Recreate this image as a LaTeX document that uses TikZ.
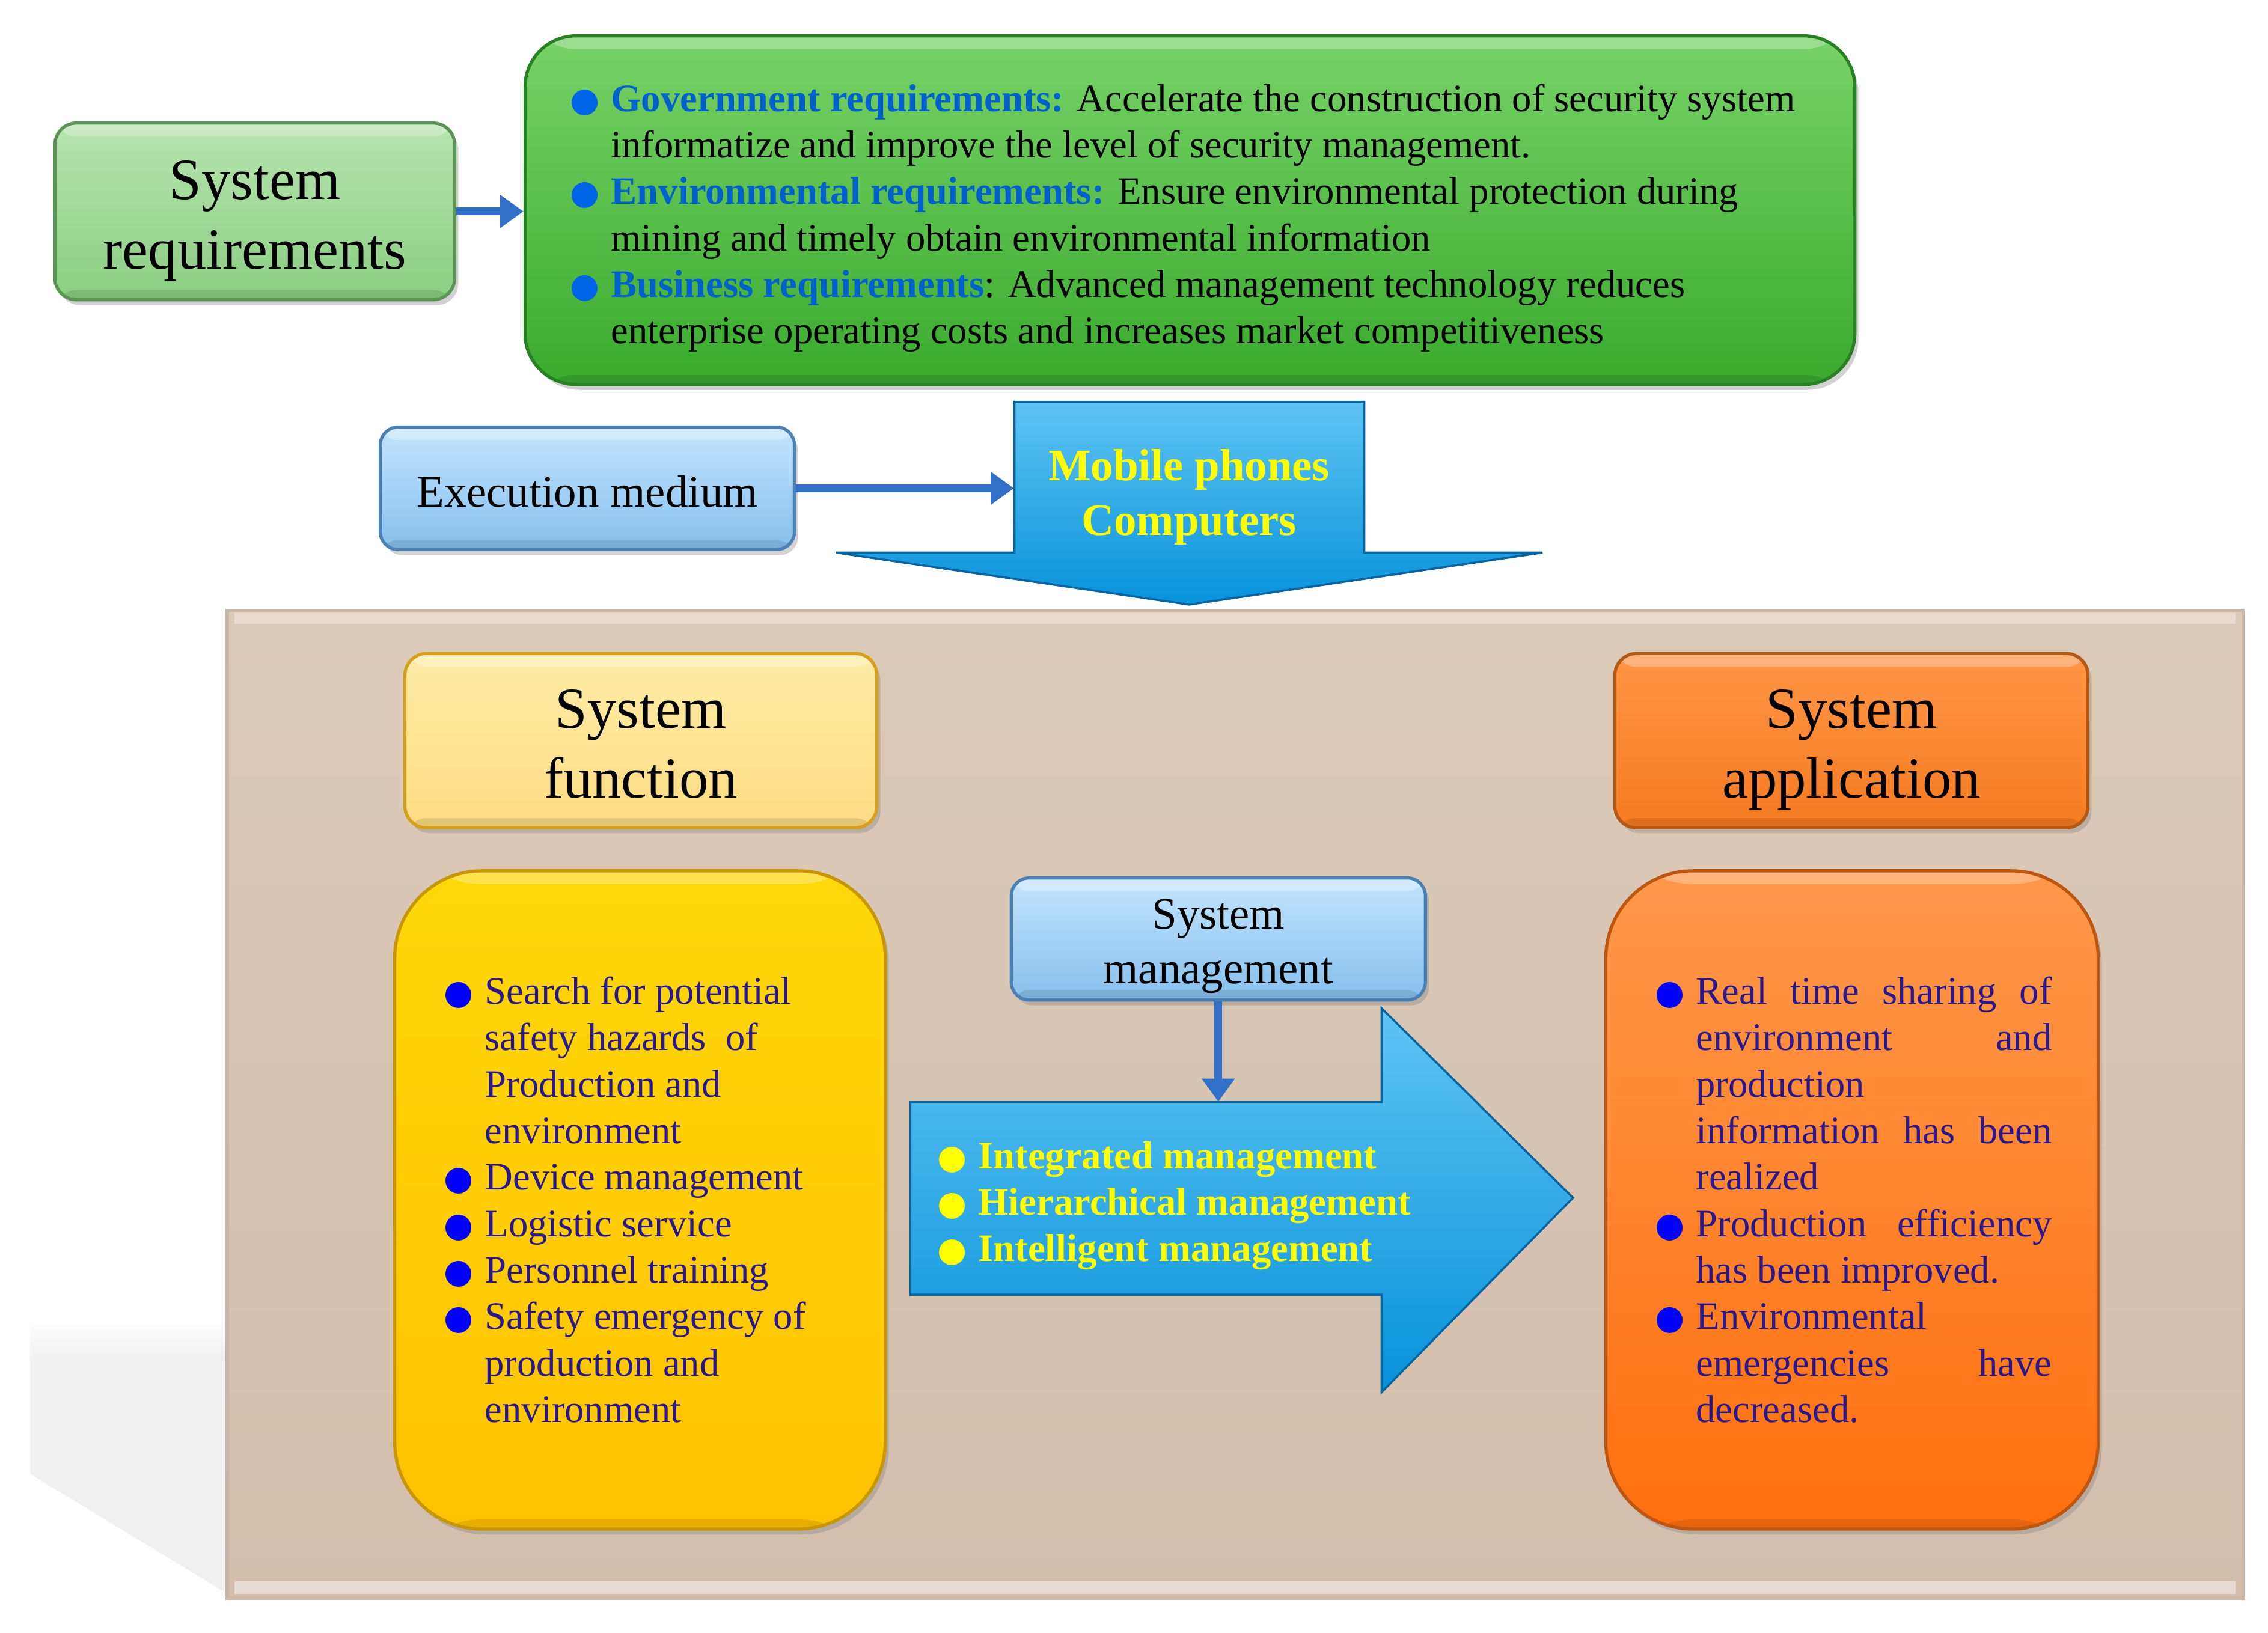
\documentclass[tikz,border=0pt]{standalone}
\usepackage{fontspec}
\setmainfont{Liberation Serif}
\newfontfamily\symfont{DejaVu Sans}
\usetikzlibrary{arrows.meta,shadows}

\definecolor{srtop}{RGB}{184,228,176}
\definecolor{srbot}{RGB}{140,206,132}
\definecolor{srborder}{RGB}{88,150,82}
\definecolor{grtop}{RGB}{120,210,104}
\definecolor{grbot}{RGB}{58,170,46}
\definecolor{grborder}{RGB}{40,130,36}
\definecolor{bltop}{RGB}{196,228,252}
\definecolor{blbot}{RGB}{134,192,238}
\definecolor{blborder}{RGB}{74,128,180}
\definecolor{arrtop}{RGB}{96,196,244}
\definecolor{arrbot}{RGB}{6,146,218}
\definecolor{arrborder}{RGB}{10,100,160}
\definecolor{conncol}{RGB}{48,112,200}
\definecolor{pantop}{RGB}{220,202,185}
\definecolor{panbot}{RGB}{211,190,172}
\definecolor{panedge}{RGB}{196,182,168}
\definecolor{sftop}{RGB}{255,236,168}
\definecolor{sfbot}{RGB}{253,220,130}
\definecolor{sfborder}{RGB}{214,160,30}
\definecolor{satop}{RGB}{255,150,72}
\definecolor{sabot}{RGB}{246,122,32}
\definecolor{saborder}{RGB}{180,88,22}
\definecolor{yltop}{RGB}{255,216,10}
\definecolor{ylbot}{RGB}{255,194,0}
\definecolor{ylborder}{RGB}{200,150,0}
\definecolor{ortop}{RGB}{255,152,76}
\definecolor{orbot}{RGB}{255,112,14}
\definecolor{orborder}{RGB}{190,86,16}
\definecolor{listtext}{RGB}{40,24,140}
\definecolor{bulblue}{RGB}{0,0,250}
\definecolor{reqblue}{RGB}{0,96,204}
\definecolor{greenbul}{RGB}{0,100,230}
\definecolor{yellowtext}{RGB}{255,255,0}

\newcommand\bul[1]{\leavevmode\llap{\textcolor{#1}{\symfont\fontsize{16}{16}\selectfont ●}\kern 5.5pt}}

\begin{document}
\begin{tikzpicture}[x=0.00995cm,y=-0.00995cm,
  tbox/.style={draw=#1, line width=1.5pt, rounded corners=0.36cm, inner sep=0pt,
    drop shadow={shadow xshift=0.06cm, shadow yshift=-0.09cm, opacity=0.35}},
  bevel/.style={path picture={
    \fill[white,opacity=0.28] (path picture bounding box.north west) rectangle ([yshift=-0.22cm]path picture bounding box.north east);
    \fill[black,opacity=0.10] (path picture bounding box.south west) rectangle ([yshift=0.16cm]path picture bounding box.south east);}},
  conn/.style={draw=conncol, line width=3.6pt, -{Triangle[length=11pt,width=15pt]}},
  listnode/.style={anchor=base west, inner sep=0pt},
  titletext/.style={font=\fontsize{27.5}{33}\selectfont, align=center, inner sep=0pt},
  midtext/.style={font=\fontsize{21.3}{26}\selectfont, align=center, inner sep=0pt}]

\fill[white] (0,0) rectangle (3792,2730);
\path[use as bounding box] (0,0) rectangle (3792,2730);

% ---------- top part ----------
\node[tbox=srborder, bevel, top color=srtop, bottom color=srbot, minimum width=6.65cm, minimum height=2.94cm] (sysreq) at (426,353.5) {};
\node[titletext] (sysreqlabel) at ([yshift=-0.16cm]sysreq.center) {System\\requirements};

\node[draw=grborder, line width=1.5pt, rounded corners=0.85cm, top color=grtop, bottom color=grbot, minimum width=22.12cm, minimum height=5.80cm, inner sep=0pt, bevel,
  drop shadow={shadow xshift=0.06cm, shadow yshift=-0.09cm, opacity=0.35}] (green) at (1989.5,351.5) {};

\node[listnode] (greenlist) at (1021,186) {\parbox[t]{21cm}{\fontsize{18.4}{22}\selectfont
\bul{greenbul}\textcolor{reqblue}{\textbf{Government requirements:}} Accelerate the construction of security system\\
informatize and improve the level of security management.\\
\bul{greenbul}\textcolor{reqblue}{\textbf{Environmental requirements:}} Ensure environmental protection during\\
mining and timely obtain environmental information\\
\bul{greenbul}\textcolor{reqblue}{\textbf{Business requirements}}: Advanced management technology reduces\\
enterprise operating costs and increases market competitiveness}};

\draw[conn] (sysreq.east) -- (sysreq.east -| green.west);

% execution medium and mobile arrow
\node[tbox=blborder, bevel, top color=bltop, bottom color=blbot, minimum width=6.89cm, minimum height=2.04cm, rounded corners=0.3cm] (exec) at (982,816.5) {};
\node[midtext] (execlabel) at ([yshift=-0.05cm]exec.center) {Execution medium};

\fill[top color=arrtop, bottom color=arrbot, draw=arrborder, line width=1pt]
  (1696,672) -- (2281,672) -- (2281,924) -- (2579,924) -- (1988,1011) -- (1398,924) -- (1696,924) -- cycle;
\node[minimum width=5.82cm, minimum height=2.51cm, inner sep=0pt] (mobile) at (1988.5,798) {};
\node[font=\bfseries\fontsize{21.3}{26}\selectfont, align=center, inner sep=0pt, text=yellowtext] (mobiletext) at (1988,831)
  {Mobile phones\\Computers};

\draw[conn] (exec.east) -- (exec.east -| mobile.west);

% ---------- lower panel ----------
\fill[top color=white, bottom color=black!6] (51,2210) rectangle (380,2276);
\fill[black!6] (51,2276) -- (380,2276) -- (380,2665) -- (51,2465) -- cycle;

\node[draw=panedge, line width=1.5pt, top color=pantop, bottom color=panbot, minimum width=33.53cm, minimum height=16.44cm, inner sep=0pt] (panel) at (2065,1847) {};
\draw[white, opacity=0.45, line width=6pt] (392,2655) -- (3738,2655);
\draw[white, opacity=0.35, line width=5pt] (392,1034) -- (3738,1034);

\node[tbox=sfborder, bevel, top color=sftop, bottom color=sfbot, minimum width=7.85cm, minimum height=2.90cm] (sysfunc) at (1071.5,1238.5) {};
\node[titletext] (sysfunclabel) at ([yshift=-0.06cm]sysfunc.center) {System\\function};
\node[tbox=saborder, bevel, top color=satop, bottom color=sabot, minimum width=7.87cm, minimum height=2.90cm] (sysapp) at (3095.5,1238.5) {};
\node[titletext] (sysapplabel) at ([yshift=-0.15cm]sysapp.center) {System\\application};

\node[tbox=ylborder, bevel, rounded corners=1.45cm, top color=yltop, bottom color=ylbot, minimum width=8.16cm, minimum height=10.95cm] (funcbox) at (1070,2006.5) {};
\node[tbox=orborder, bevel, rounded corners=1.45cm, top color=ortop, bottom color=orbot, minimum width=8.19cm, minimum height=10.95cm] (appbox) at (3096.5,2006.5) {};

% big right arrow
\fill[top color=arrtop, bottom color=arrbot, draw=arrborder, line width=1pt]
  (1522,1843) -- (2310,1843) -- (2310,1686) -- (2630,2003) -- (2310,2328) -- (2310,2165) -- (1522,2165) -- cycle;
\node[minimum width=7.84cm, minimum height=3.20cm, inner sep=0pt] (mgmtarrow) at (1916,2004) {};

\node[tbox=blborder, bevel, top color=bltop, bottom color=blbot, minimum width=6.89cm, minimum height=2.03cm, rounded corners=0.3cm] (sysmgmt) at (2037,1570) {};
\node[midtext] (sysmgmtlabel) at ([yshift=-0.12cm]sysmgmt.center) {System\\management};

\draw[conn] (sysmgmt.south) -- (sysmgmt.south |- mgmtarrow.north);

\node[listnode] (funclist) at (810,1679) {\parbox[t]{7cm}{\fontsize{18.4}{22}\selectfont\leavevmode\color{listtext}%
\bul{bulblue}Search for potential\\
safety hazards\ \ of\\
Production and\\
environment\\
\bul{bulblue}Device management\\
\bul{bulblue}Logistic service\\
\bul{bulblue}Personnel training\\
\bul{bulblue}Safety emergency of\\
production and\\
environment}};

\node[listnode] (mgmtlist) at (1635,1954) {\parbox[t]{9cm}{\fontsize{18.4}{22}\selectfont\bfseries\leavevmode\color{yellowtext}%
\bul{yellowtext}Integrated management\\
\bul{yellowtext}Hierarchical management\\
\bul{yellowtext}Intelligent management}};

\node[listnode] (applist) at (2835,1679) {\parbox[t]{6.2cm}{\fontsize{18.4}{22}\selectfont\leavevmode\color{listtext}%
\bul{bulblue}\makebox[5.92cm][s]{Real time sharing of}\\
\makebox[5.92cm][s]{environment and}\\
production\\
\makebox[5.92cm][s]{information has been}\\
realized\\
\bul{bulblue}\makebox[5.92cm][s]{Production efficiency}\\
has been improved.\\
\bul{bulblue}Environmental\\
\makebox[5.92cm][s]{emergencies have}\\
decreased.}};

\end{tikzpicture}
\end{document}
